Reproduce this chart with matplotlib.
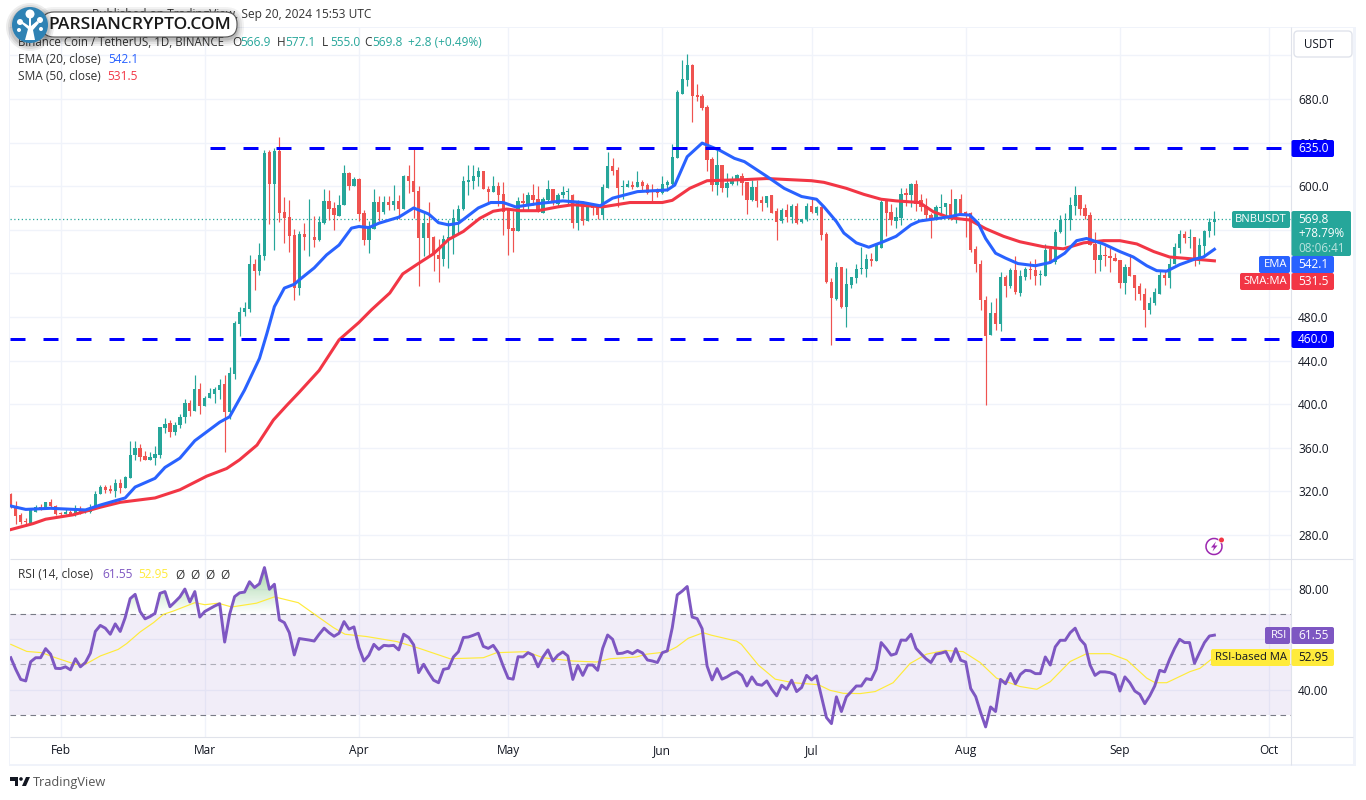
import numpy as np
import matplotlib
matplotlib.use("Agg")
import matplotlib.pyplot as plt
from matplotlib.patches import FancyBboxPatch, Rectangle, Circle, Polygon, Arc

opens = [318,306,298,293,291,301.5,306,304,310,307,
300.5,299,301,298.5,304,301,301.5,305.5,318,324,
322,320,328,323.5,332.5,353.5,359.5,352.5,349,350.5,
353.5,378.5,382.5,374.5,380.5,388,401,394,413.5,398.5,
406,409.5,413,418.5,393,428,473.5,484.5,487.5,529,
522.5,536,631,602,632.5,576.5,571.5,555.5,507,556.3,
553,553.5,551,566.5,586.5,580,573,582.5,612.5,600,
607,575.5,551,561,585.5,576.5,585.5,583,586.5,579,
609.5,605,596,552.5,566,553,537,533.5,551,553,
568,579,603.5,605,608,613.5,597.5,595,600.5,593,
578,562,559,586.5,584,592,588.5,575.5,587.5,597,
584,591.5,595,592,566.5,583,568.5,582,582,573.5,
598.5,618.5,615,599,599.5,601.5,599.5,604,601,596,
595,593.5,601.5,602,625.5,685,697.5,711,683.5,682.5,
672.5,624.5,601,619.5,598.5,602,606.5,609.5,604,587,
599.5,587.5,585,591.5,577,568,578,572,582,567,
569.5,582,575.5,580.5,556,512.5,496.5,525.5,489.5,509.5,
516,524,524,533,531.5,543.5,586.5,576.5,568.5,571,
593.5,592,602,587,582,574,569.5,580,580.5,583.5,
570.5,588,576.5,575,542,529,496,463.5,484,473.5,
517,508,523,502,517,524,523,518.5,518,542,
530,557.5,569,569,582,592,580,573.5,547,532.5,
537,536,534.5,532.5,511.5,525.5,518.5,508,501.5,486.5,
492.5,501.5,518.5,516,528.5,543.5,556,552.5,553.5,532,
545,558.5,566.9]

highs = [319,311,300,296,304.5,307.5,308.5,310,313,307.5,
301.5,304.5,303,307.5,306.5,302.5,308.5,320.5,326,325.5,
326,331,331,334,366,366,363.5,357.5,356,361.5,
379,387,385.5,384,391,404.5,403.5,427,419,407.5,
414.5,416,423,427,434,476.5,489,493.5,537,533,
548,633.5,633,635,645.5,590.5,587.5,561,559,566,
588.5,573,573,597.5,596.5,585.5,592,619.5,613,608.5,
607.5,578.5,568.5,597.5,591,591,591,601,592,610.5,
619,634.5,600,575,585.5,554.5,551.5,555.5,569,579,
583,609,619,619,617.5,613.5,600,609,604,604,
578,577,590.5,594,595,602,600.5,590.5,606,597,
594,600.5,598,593,587.5,586,585,583,584,602,
631.5,626,618,605.5,606,604.5,614,605.5,602.5,602,
598,609,605.5,638.5,688.5,715.5,721,712,694,684.5,
674.5,627,635,619.5,612.5,609.5,611,612,604,605.5,
605.5,591,591,591.5,580,580,584,584,585,569.5,
585,588,582,581.5,557.5,515.5,530.5,525.5,524.5,517,
529,544.5,538,538.5,548,587,588,583.5,580.5,598,
598,603,605.5,593,589,575.5,582.5,593,585,597.5,
588,593,577.5,576.5,545,532,499,493.5,497,521,
518.5,524.5,536,523.5,525.5,531.5,533,523.5,547,542,
560.5,574,575,590,600,592,583.5,576.5,557.5,547,
545,543,538.5,532.5,529,538,518.5,511,507,498.5,
506.5,523.5,523.5,534.5,548,560,559,561,553.5,552,
560,571,577.1]

lows = [305,290,290,288,290,301,303,304,305.5,298,
297,299,298,297.5,299,300.5,300.5,304.5,318,319,
319,315,319,323.5,332.5,349,348,349,349,344,
351,374,369.5,372,378,382.5,389,394,391,398.5,
406,401,404.5,356.5,386,423,462.5,480.5,484.5,505,
518.5,532,565.5,541,567.5,548,540,495.5,500,541,
535.5,544,549.5,565,569,560,573,582.5,596.5,600,
568.5,546,539,561,568,574.5,578,578,570,579,
594,570.5,508,536,536,522.5,512.5,527,525,538,
557,578.5,592,597,600,597,584.5,595,582,555.5,
537,540,559,577,578.5,583,576,575.5,586.5,583,
581.5,589,583,561.5,560,564.5,568.5,573.5,569.5,569.5,
598.5,610,580.5,588,599,597.5,599,596,593,586,
590,593,596,601,625.5,685,692,659,678.5,670,
613.5,595.5,591.5,595,590.5,601,601,591.5,574.5,586,
581,577.5,581,575,550.5,566.5,567.5,566.5,565.5,566.5,
568,575.5,574,550.5,511,454.5,495.5,488,471,506.5,
511.5,519.5,517,526.5,531,543.5,554,564.5,562,564.5,
582,581,577.5,577.5,569,552,569,573.5,573.5,569,
566.5,573.5,553.5,540,521.5,486.5,399,463.5,468,467,
498.5,506.5,501.5,499,513.5,514.5,509.5,509.5,517.5,530,
529,557,546,560,573.5,574,569.5,546,520.5,522.5,
527,521.5,531,507,501.5,517.5,495.5,495.5,471,483,
491,501,509.5,507,528.5,538.5,547.5,543,527,529,
535,553,555]

closes = [307,297.5,292,292,303,305.5,304,310,306.5,299,
299.5,301,299.5,304,301,302,306,318,324,321.5,
320,327.5,323.5,333,353.5,359.5,352,349,351.5,354.5,
379,382,374.5,381,388.5,401,394,414,398.5,406,
410,413.5,417.5,393,428.5,474.5,485,488.5,529,522.5,
537,630.5,602,632.5,575,570.5,554.5,507,556.5,553,
553.5,551,567,586.5,579,574,583,612,600,606.5,
574.5,551,562.5,585.5,576.5,585.5,583,586.5,579,609.5,
604.5,595,552.5,566,552.5,538,533.5,551.5,553,570.5,
579,604.5,606,609,613.5,597,595,600.5,592,576,
561,559,586.5,584.5,592,587.5,576,588.5,597,584.5,
592,595,596,566.5,584.5,568.5,584,580,573.5,599.5,
618.5,614,598,600,602,599,604,600,594,594.5,
593.5,602,603.5,626.5,686,698.5,711,683,682,671.5,
624,601,619.5,598.5,602.5,607,610,603,587,599.5,
586,585,591,575.5,567.5,578,572,582,566,569.5,
582,576,580.5,555,512.5,497,525.5,489.5,510,516.5,
524,525,533,531.5,546,585.5,575.5,569,571.5,593,
592,602,584,581,573.5,569,580.5,580.5,584.5,570.5,
588,575,573.5,541.5,529,495.5,463,484,473.5,516.5,
508,523,502.5,517.5,524,523,518,519.5,541.5,530,
558,569,569.5,582.5,592,579,572.5,546,532.5,537,
536,534.5,531.5,511.5,525.5,517.5,507,501,486.5,492.5,
502.5,518.5,516,529,544,556,552.5,553,532,546,
559,567,569.8]

ema_day = [0,3,8,15,18,23,25,29,31,34,37,42,44,47,50,51.5,53,55,57,58,61,63.5,66,68.5,70,72,74,78,81,84,86,88,90,94,96.5,99,101.5,106,111,115,
118.5,121,126,132,133.5,136,139,142.5,145.5,147.5,152,155.5,159,162,163.5,166,167.5,170,172.5,175.4,178,181,182.7,185,188.8,190.8,192.8,194.5,196,198,200,202.5,206,209,211.9,214.3,216.3,219.7,223,225.7,228.4,230.4,232.4,235,238,239.8,242]
ema_val = [306.6,303.5,304.5,303,307.5,314,324,332,342,350.5,366.5,383.5,388.5,413,442,465,489.5,506.5,510,514,525,537,546,561.5,563,562,566,571.5,580,574.5,566.5,564.5,566,580,585,585,581,584,586.5,585,
582,589,595,596.5,601,627,639.5,633,625.5,622.5,609,598,590.5,588,581,567.5,557,548,544,549,554,564.5,568,569.5,572,574,573.5,566,552,538.5,534,529,527,530,538.5,550,552,547,540,535,527,522.5,522,528,533,535,542.1]

sma_day = [0,4.5,7,12.5,18,22,29,34,39.4,43.4,46,49.5,52.8,55.5,58,62,66,70,72.5,76.2,78.8,81.6,85,88,91,94.3,97,99.7,102.4,106,110,113,116,
119,124.5,131,133,136.5,140,147.5,152,161,163.5,168,171.5,175,178,182.7,185.5,188.8,192.8,196,199.6,202.9,207.6,211.6,215.7,219.7,223,226.4,229.8,233,237,242]
sma_val = [285,290.5,294.5,298.5,305.5,310,314,321.5,334,341,349,362.5,385.5,399,411,431,459,475,486.5,502,519.5,528,538,551,558.5,570.5,577,579,577.5,577.5,581,583,582,
581,585,585,587,598,605,606,607,605,603.5,598,592.5,588,586.5,585,576.5,571,569,561,554,549,544.5,542.5,548,550,550,547,540,535,533.5,531.5]

rsi = [52.6,48,44,43.4,51,52.6,52.6,56.2,54,48.4,
48.3,49,47.8,52.2,49,50.7,54.4,63,65.4,64.3,
61.9,66,63,68.5,76,77.7,70.9,68,68.9,70.2,
78.1,78.8,72.8,74.7,76.7,79.8,74.7,78.8,68.7,70.9,
72,73.1,74,58.8,69.8,76.8,78.3,78.6,82.7,80.4,
81.9,88.3,79.7,81.7,67.6,66.5,62.5,53.7,60.2,59.9,
59.6,59.2,61.9,64.3,62.5,61.1,62.3,66.9,63.9,64.8,
56.6,51.3,53.6,57.9,55.9,57.5,57.3,57.5,55.7,61.9,
60.6,57.7,46.7,50,46.7,43.7,42.7,48,48.4,52.9,
55,60.6,60.8,61.5,62.3,57.1,56.3,57.5,54.6,49.3,
44.5,44.1,53,52.9,54.6,53.6,49,52.9,55.7,51.3,
53.6,54.9,53.3,44,49.6,45.6,49.7,49.7,47.6,56.3,
61.6,59.9,54.2,54.4,55.1,54.2,55.5,54.5,51.7,51.3,
50.7,54.6,55.3,64.5,77.5,79,80.8,68.7,68.1,64.1,
49.3,43.8,48.3,44.1,45,46.3,47.1,45.6,41.4,45,
42.1,41.7,43.4,40.1,37.5,41.7,40.1,43.7,39.2,40.8,
45.6,43.8,45.4,37.1,28.9,26.5,37.1,31.3,37.1,39.2,
41.4,41.4,44.3,43.9,48,58.6,56.3,53.6,54.2,59.6,
59.5,61.9,56.3,54.2,52.2,50.7,54,54.4,55,51.1,
56.2,51.6,50.9,40.4,37.2,30.9,25.2,33.1,31.3,44,
42.3,46.4,42.3,46,47.6,47.4,46.3,46.3,52.9,49.7,
56.9,59.5,59.5,62.5,64.3,59.9,57.7,49.7,45.6,47,
47,46.7,45.8,39.4,45,42.7,39.4,38.1,34.4,37.5,
41.4,47.6,47,52,56.3,59.9,58.6,58.6,50.4,54.6,
58.6,61.2,61.55]

rsima_day = [0,3.2,6.2,9,13,15,18,21.6,23.3,26,28.7,30.7,32.7,37,39,41.7,44.4,49.4,53,57.8,62,64.9,67.2,71.5,77.6,82.3,88.3,
95,97.7,103.7,107,113,117.8,120.5,125.8,127.8,131.9,133.9,136.2,139.2,140.9,145.9,146.9,150.3,153.7,157.3,162.4,164.7,167.4,170.8,173.8,
177.4,180.8,184.1,187.8,191.5,194.9,198.2,202.9,206.3,209,213,216.3,221,224.4,228.4,230.1,232.4,237.1,239.1,242]
rsima_val = [57.9,55.1,54.6,52.6,50,50,53.3,55.9,58.2,62.8,66.5,69.8,71.1,74.4,73.6,74.2,72.7,74.2,76.7,74.4,68.5,64.5,61.9,61,59,56.2,52.2,
52.6,54.6,55,52.6,51.3,50.9,52.2,52.9,54,54.9,56.9,60.3,62.5,61.5,59.2,57.9,49.7,44.1,42.7,41.9,39.7,38.5,38.4,39.2,
42.7,50.3,54,55.5,55,50.7,44.5,41.2,40.1,43.1,51.1,54.2,54.2,51.7,44.5,42.7,42.7,47.1,48.4,52.95]

resistance = 635.0
support = 460.0
last_close = 569.8
price_ticks = [280,320,360,400,440,480,520,560,600,640,680,720]
price_labels = ["280.0","320.0","360.0","400.0","440.0","480.0","","","600.0","640.0","680.0",""]
rsi_ticks = [40,60,80]
rsi_labels = ["40.00","","80.00"]
month_days = [10,39,70,100,131,161,192,223,253]
month_names = ["Feb","Mar","Apr","May","Jun","Jul","Aug","Sep","Oct"]

UP, DOWN = "#26a69a", "#ef5350"
BLUE, RED, PURPLE, YEL = "#2962ff", "#f23645", "#7e57c2", "#ffeb3b"
GRID, FRAME, INK = "#f0f3fa", "#e0e3eb", "#131722"
FONT = "Open Sans"
W, H = 1366, 800
plt.rcParams["font.family"] = [FONT, "DejaVu Sans"]

fig = plt.figure(figsize=(W/100, H/100), dpi=100, facecolor="white")
def rect(x0, y0, x1, y1):
    return [x0/W, 1-y1/H, (x1-x0)/W, (y1-y0)/H]

ax = fig.add_axes(rect(10, 27, 1291, 559))
ar = fig.add_axes(rect(10, 559, 1291, 737))
XLIM = (-0.16, 257.4)
days = np.arange(len(closes))
o, h, l, c = map(np.array, (opens, highs, lows, closes))
col = np.where(c >= o, UP, DOWN)

ax.set_xlim(*XLIM); ax.set_ylim(258, 746)
ax.vlines(days, l, h, colors=col, lw=0.85, zorder=3)
ax.bar(days, np.abs(c-o), bottom=np.minimum(o, c), width=0.66, color=col, lw=0, zorder=4)
ax.plot(sma_day, sma_val, color=RED, lw=2.2, zorder=5, solid_joinstyle="round")
ax.plot(ema_day, ema_val, color=BLUE, lw=2.2, zorder=6, solid_joinstyle="round")
ax.plot([40, XLIM[1]], [resistance]*2, color="#0000ff", lw=2.16, dashes=(5, 6), dash_capstyle="butt", zorder=7)
ax.plot([XLIM[0], XLIM[1]], [support]*2, color="#0000ff", lw=2.16, dashes=(5, 6), dash_capstyle="butt", zorder=7)
ax.axhline(last_close, color=UP, lw=0.9, dashes=(1, 2), zorder=2)

ar.set_xlim(*XLIM); ar.set_ylim(21.2, 91.7)
ar.axhspan(30, 70, color="#7e57c2", alpha=0.1, lw=0, zorder=1)
ar.axhline(70, color="#787b86", lw=0.8, dashes=(5, 4), zorder=2)
ar.axhline(30, color="#787b86", lw=0.8, dashes=(5, 4), zorder=2)
ar.axhline(50, color="#787b86", lw=0.8, dashes=(5, 4), alpha=0.55, zorder=2)
poly = ar.fill_between(days, 70, np.maximum(rsi, 70), color="none", lw=0)
grad = np.zeros((64, 2, 4)); grad[..., 0] = 0.30; grad[..., 1] = 0.69; grad[..., 2] = 0.31
grad[..., 3] = np.linspace(0.55, 0.0, 64)[:, None]
im = ar.imshow(grad, extent=(0, 60, 70, 90), aspect="auto", zorder=3, origin="upper")
im.set_clip_path(poly.get_paths()[0], transform=ar.transData)
ar.set_xlim(*XLIM); ar.set_ylim(21.2, 91.7)
ar.plot(rsima_day, rsima_val, color=YEL, lw=0.85, zorder=4)
ar.plot(days, rsi, color=PURPLE, lw=2.1, zorder=5, solid_joinstyle="round")

for a in (ax, ar):
    a.set_axisbelow(True)
    a.grid(True, color=GRID, lw=1)
    a.yaxis.tick_right()
    for s in a.spines.values():
        s.set_visible(False)
    a.tick_params(length=0)
    a.set_xticks(month_days)
ax.set_xticklabels([])
ax.set_yticks(price_ticks); ax.set_yticklabels(price_labels, fontsize=8.6, color=INK)
ar.set_yticks(rsi_ticks); ar.set_yticklabels(rsi_labels, fontsize=8.6, color=INK)
ax.tick_params(axis="y", pad=5); ar.tick_params(axis="y", pad=5)
ar.set_xticklabels(month_names, fontsize=8.6, color=INK)
ar.tick_params(axis="x", pad=5)

# Pixel overlay for frame, legends, price tags and watermark
ov = fig.add_axes([0, 0, 1, 1], zorder=10)
ov.set_xlim(0, W); ov.set_ylim(H, 0); ov.axis("off"); ov.patch.set_alpha(0)

def line(x0, y0, x1, y1, color=FRAME, lw=0.8):
    ov.plot([x0, x1], [y0, y1], color=color, lw=lw, solid_capstyle="butt")
def box(x0, y0, x1, y1, fc, ec="none", r=2, lw=0, z=3):
    ov.add_patch(FancyBboxPatch((x0, y0), x1-x0, y1-y0, boxstyle=f"round,pad=0,rounding_size={r}",
                                fc=fc, ec=ec, lw=lw, zorder=z, mutation_aspect=1))
def T(x, y, s, color=INK, size=8.6, ha="left", z=5, **kw):
    ov.text(x, y, s, color=color, fontsize=size, ha=ha, va="center", zorder=z, **kw)

ov.add_patch(Rectangle((8.5, 27), 1.5, 738, fc=GRID, lw=0))
ov.add_patch(Rectangle((1353, 27), 3, 738, fc=GRID, lw=0))
ov.add_patch(Rectangle((8.5, 763.5), 1347.5, 2, fc=GRID, lw=0))
ov.add_patch(Rectangle((8.5, 26.5), 1347.5, 1.2, fc=GRID, lw=0))
line(1291, 27, 1291, 765)
line(10, 559, 1353, 559)
line(10, 737, 1353, 737)

box(1294, 31, 1352, 57, "white", ec=FRAME, r=4, lw=1)
T(1304, 44, "USDT", size=8.4)

def tag(y0, y1, x0, name, value, fc, tc="white", xr=1334):
    if name:
        box(x0, y0, 1290, y1, fc)
        T(1287, (y0+y1)/2, name, color=tc, ha="right", size=8.1)
    box(1291.5, y0, xr, y1, fc)
    T(1298, (y0+y1)/2, value, color=tc)

tag(140, 157, 1291, "", "635.0", "#0000ff")
tag(331, 348, 1291, "", "460.0", "#0000ff")
box(1232, 211, 1290, 228, UP)
T(1287, 219.5, "BNBUSDT", color="white", ha="right", size=8.1)
box(1291.5, 211, 1351, 256, UP)
T(1298, 219.5, "569.8", color="white")
T(1298, 233.5, "+78.79%", color="white", size=8.4)
T(1298, 248, "08:06:41", color="#b9e3de", size=8.4)
tag(256, 273, 1259, "EMA", "542.1", BLUE)
tag(273, 290, 1240, "SMA:MA", "531.5", RED)
tag(627, 644, 1265, "RSI", "61.55", PURPLE)
tag(649, 666, 1211, "RSI-based MA", "52.95", YEL, tc=INK)

# Header and legends
T(371, 14.5, "Published on TradingView, Sep 20, 2024 15:53 UTC", ha="right", z=2, color="#333333")
T(18, 42, "Binance Coin / TetherUS, 1D, BINANCE", color="#333333", z=2, size=8.3)
for x, a_, b_ in [(232, "O", "566.9"), (277, "H", "577.1"), (322, "L", "555.0"), (364, "C", "569.8")]:
    T(x, 42, a_, color="#333333")
    T(x+8, 42, b_, color=UP)
T(408, 42, "+2.8 (+0.49%)", color=UP)
T(18, 59.5, "EMA (20, close)", color="#333333")
T(108, 59.5, "542.1", color=BLUE)
T(18, 76, "SMA (50, close)", color="#333333")
T(107, 76, "531.5", color=RED)
T(18, 575, "RSI (14, close)", color="#333333")
T(102, 575, "61.55", color=PURPLE)
T(138, 575, "52.95", color=YEL)
for x in (175, 190, 205, 220):
    T(x, 575, "Ø", color="#333333")

# Watermark
for k, a_ in ((7, 0.05), (5, 0.06), (3, 0.08), (1.5, 0.10)):
    box(42-k, 12-k+2, 237+k, 37+k+2, "black", r=12+k, z=6)
    ov.patches[-1].set_alpha(a_)
box(42, 12, 237, 37, "white", ec="#555555", r=12, lw=0.8, z=7)
T(48, 25, "PARSIANCRYPTO.COM", color="#1a1a1a", size=12.6, z=8, family="Open Sans", fontweight="semibold")
for k, a_ in ((6, 0.07), (4, 0.08), (2, 0.1)):
    ov.add_patch(Circle((30, 27), 18+k, fc="black", alpha=a_, lw=0, zorder=8))
ov.add_patch(Circle((30, 25), 18, fc="#2f82b4", lw=0, zorder=9))
ov.add_patch(Polygon([[25, 40], [28, 29], [21, 23], [23, 22], [29, 26], [29, 15], [31, 15], [31, 26], [37, 21], [39, 23], [33, 30], [35, 40]],
                     fc="white", lw=0, zorder=10))
for cx, cy, r_ in ((30, 14, 4.5), (20, 22, 3), (40, 20, 3), (19, 30, 2), (41, 29, 2)):
    ov.add_patch(Circle((cx, cy), r_, fc="white", lw=0, zorder=10))

# TradingView footer
ov.add_patch(Polygon([[10, 777], [18, 777], [18, 786], [14.5, 786], [14.5, 780.5], [10, 780.5]], fc=INK, lw=0))
ov.add_patch(Circle((21, 779), 1.8, fc=INK, lw=0))
ov.add_patch(Polygon([[26, 777], [30, 777], [26, 786], [22, 786]], fc=INK, lw=0))
T(33, 782.5, "TradingView", color="#555555", size=9.2)

# Replay icon
ov.add_patch(Arc((1214, 546.5), 16, 16, theta1=0, theta2=360, ec="#9c27b0", lw=1.1))
ov.add_patch(Polygon([[1216, 541.5], [1211, 547.5], [1214, 547.5], [1212.5, 551.5], [1217.5, 545.5], [1214.5, 545.5]], fc="#9c27b0", lw=0))
ov.add_patch(Circle((1221.5, 540), 3.2, fc="white", lw=0))
ov.add_patch(Circle((1221.5, 540), 2.5, fc=RED, lw=0))

fig.savefig("out.png", dpi=100, facecolor="white")
